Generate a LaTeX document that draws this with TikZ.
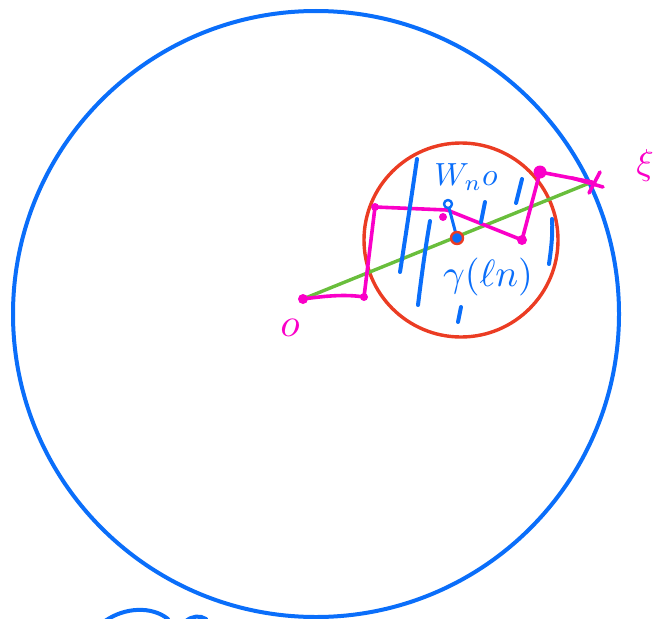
\documentclass[tikz,border=0pt]{standalone}
\usepackage{amsmath}
\usepackage{graphicx}
\definecolor{pblue}{RGB}{10,110,250}
\definecolor{pred}{RGB}{235,60,35}
\definecolor{pgreen}{RGB}{105,190,60}
\definecolor{pmag}{RGB}{250,0,200}
\begin{document}
\begin{tikzpicture}[x=1pt,y=-1pt,line cap=round,line join=round,
  bluestroke/.style={draw=pblue,line width=4pt},
  magstroke/.style={draw=pmag,line width=3.6pt},
  dotm/.style={circle,fill=pmag,inner sep=0pt,minimum size=10pt},
  lbl/.style={inner sep=0pt,text=pblue}]
\useasboundingbox (0,0) rectangle (660,618);
\begin{scope}
\clip (0,0) rectangle (660,618);
% big circle
\draw[bluestroke] (316,314) circle[radius=303];
% partial arcs at bottom
\draw[bluestroke] (105,621) .. controls (125,607) and (152,606) .. (168,619);
\draw[bluestroke] (186,621) .. controls (192,616) and (200,615) .. (206,619);
\end{scope}
% red circle
\draw[draw=pred,line width=3.4pt] (461,240) circle[radius=97];
% coordinates
\coordinate (o) at (303,299);
\coordinate (a) at (364,297);
\coordinate (b) at (375,207);
\coordinate (c) at (447,210);
\coordinate (d) at (522,240);
\coordinate (e) at (540,172);
\coordinate (xi) at (592,182);
\coordinate (g) at (457,238);
\coordinate (h) at (448,204);
% green geodesic
\draw[draw=pgreen,line width=3.4pt] (o) -- (xi);
% magenta path
\draw[magstroke] (o) .. controls (325,296) and (345,294) .. (a) -- (b) -- (c) -- (d) -- (e) -- (xi);
\node[dotm] (do) at (o) {};
\node[dotm,minimum size=8pt] (da) at (a) {};
\node[dotm,minimum size=8pt] (db) at (b) {};
\node[dotm,minimum size=10pt] (dd) at (d) {};
\node[dotm,minimum size=13pt] (de) at (e) {};
\node[dotm,minimum size=8pt] (dc2) at (443,217) {};
% cross at xi
\draw[magstroke] (572,178) -- (603,187);
\draw[magstroke] (600,172) -- (589,193);
% hollow point W_n o and link to gamma
\draw[draw=pblue,line width=3pt] (h) -- (g);
\node[circle,draw=pblue,fill=white,line width=2.4pt,inner sep=0pt,minimum size=8pt] (hn) at (h) {};
\node[circle,draw=pred,fill=pblue,line width=2.4pt,inner sep=0pt,minimum size=12pt] (gn) at (g) {};
% norm bars
\draw[bluestroke] (417,159) .. controls (411,200) and (405,240) .. (400,272);
\draw[bluestroke] (430,221) .. controls (425,250) and (421,280) .. (418,305);
\draw[bluestroke] (522,179) -- (516,203);
\draw[bluestroke] (485,202) -- (481,222);
\draw[bluestroke] (552,219) .. controls (553,235) and (551,250) .. (549,264);
\draw[bluestroke] (461,307) -- (458,322);
% labels
\node[lbl] (wn) at (466,177) {\scalebox{3.2}{$W_n o$}};
\node[lbl] (gam) at (488,277) {\scalebox{3.8}{$\gamma(\ell n)$}};
\node[inner sep=0pt,text=pmag] (olab) at (290,328) {\scalebox{4}{$o$}};
\node[inner sep=0pt,text=pmag] (xilab) at (645,165) {\scalebox{3.6}{$\xi$}};
\end{tikzpicture}
\end{document}
